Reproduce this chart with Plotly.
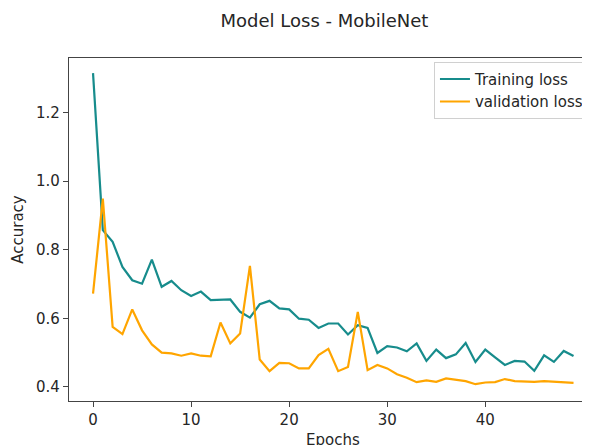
import plotly.graph_objects as go

epochs = list(range(50))
training_loss = [1.315, 0.857, 0.823, 0.750, 0.711, 0.701, 0.771, 0.692, 0.709, 0.682,
                 0.665, 0.678, 0.653, 0.655, 0.655, 0.619, 0.602, 0.641, 0.651, 0.629,
                 0.626, 0.599, 0.596, 0.572, 0.585, 0.585, 0.553, 0.580, 0.572, 0.499,
                 0.519, 0.515, 0.504, 0.527, 0.476, 0.509, 0.484, 0.495, 0.528, 0.473,
                 0.509, 0.486, 0.464, 0.476, 0.474, 0.447, 0.492, 0.473, 0.505, 0.490]
validation_loss = [0.672, 0.949, 0.575, 0.554, 0.626, 0.565, 0.524, 0.500, 0.498, 0.491,
                   0.498, 0.491, 0.489, 0.588, 0.527, 0.556, 0.753, 0.480, 0.446, 0.470,
                   0.469, 0.454, 0.454, 0.493, 0.511, 0.446, 0.458, 0.619, 0.449, 0.464,
                   0.454, 0.437, 0.427, 0.414, 0.419, 0.415, 0.425, 0.420, 0.417, 0.408,
                   0.413, 0.414, 0.423, 0.417, 0.415, 0.415, 0.417, 0.415, 0.413, 0.412]
x_ticks = [0, 10, 20, 30, 40, 50]
y_ticks = [0.4, 0.6, 0.8, 1.0, 1.2]

FONT = "DejaVu Sans"
TXT = "#262626"
AX = "#444444"

fig = go.Figure()
fig.add_trace(go.Scatter(x=epochs, y=training_loss, mode="lines", name="Training loss",
                         line=dict(color="#178c8c", width=2.2)))
fig.add_trace(go.Scatter(x=epochs, y=validation_loss, mode="lines", name="validation loss",
                         line=dict(color="#ffa500", width=2.2)))

fig.update_layout(
    width=582, height=437,
    margin=dict(l=61, r=0, t=50, b=44),
    paper_bgcolor="white", plot_bgcolor="white",
    font=dict(family=FONT, size=15, color=TXT),
    title=dict(text="Model Loss - MobileNet", x=316.5 / 582, xanchor="center",
               y=1 - 13 / 437, yref="container", yanchor="middle",
               font=dict(family=FONT, size=18, color=TXT)),
    showlegend=True,
    legend=dict(x=0.998, xanchor="right", y=0.989, yanchor="top",
                bordercolor="#d0d0d0", borderwidth=1, bgcolor="rgba(255,255,255,0.8)",
                entrywidth=160, entrywidthmode="pixels",
                font=dict(family=FONT, size=15, color=TXT), tracegroupgap=0),
    annotations=[dict(text="Epochs", xref="paper", yref="paper", x=0.5075, y=-0.0816,
                      xanchor="center", yanchor="top", showarrow=False,
                      font=dict(family=FONT, size=15, color=TXT))],
)
fig.update_xaxes(
    range=[-2.45, 50.68], tickvals=x_ticks, ticktext=[str(v) for v in x_ticks],
    showgrid=False, zeroline=False,
    showline=True, mirror=True, linecolor=AX, linewidth=1.3,
    ticks="outside", ticklen=5, tickwidth=1.2, tickcolor=AX,
    automargin=False,
)
fig.update_yaxes(
    range=[0.359, 1.359], tickvals=y_ticks, ticktext=[f"{v:.1f}" for v in y_ticks],
    showgrid=False, zeroline=False,
    showline=True, mirror=False, linecolor=AX, linewidth=1.3,
    ticks="outside", ticklen=5, tickwidth=1.2, tickcolor=AX,
    title=dict(text="Accuracy", standoff=8, font=dict(family=FONT, size=15, color=TXT)),
    automargin=False,
)

fig.write_html("out.html")
